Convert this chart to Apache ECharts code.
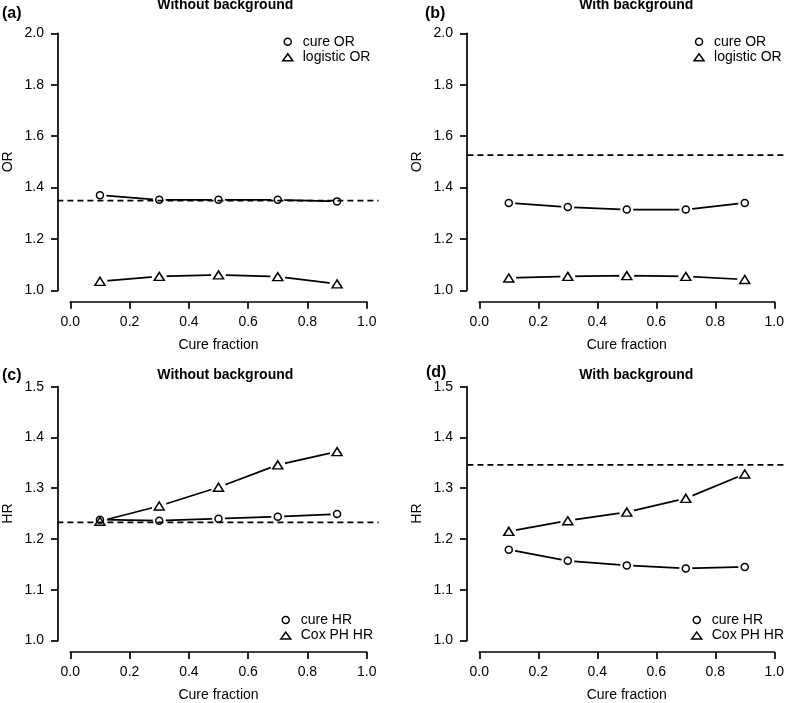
<!DOCTYPE html>
<html><head><meta charset="utf-8">
<script src="https://cdn.jsdelivr.net/npm/echarts@6/dist/echarts.min.js"></script>
<style>html,body{margin:0;padding:0;background:#fff}#c{width:787px;height:703px}</style>
</head><body><div id="c"></div>
<script>
// ---------- data ----------
const cureFraction = [0.1, 0.3, 0.5, 0.7, 0.9];
const xTicks = [0.0, 0.2, 0.4, 0.6, 0.8, 1.0];
const yTicksOR = [1.0, 1.2, 1.4, 1.6, 1.8, 2.0];
const yTicksHR = [1.0, 1.1, 1.2, 1.3, 1.4, 1.5];

const cureOR_noBg     = [1.370, 1.352, 1.352, 1.352, 1.346];
const logisticOR_noBg = [1.035, 1.054, 1.060, 1.053, 1.025];
const trueOR_noBg = 1.349;

const cureOR_bg     = [1.340, 1.324, 1.314, 1.314, 1.340];
const logisticOR_bg = [1.048, 1.054, 1.057, 1.054, 1.042];
const trueOR_bg = 1.526;

const cureHR_noBg = [1.238, 1.236, 1.240, 1.244, 1.249];
const coxHR_noBg  = [1.235, 1.265, 1.302, 1.346, 1.372];
const trueHR_noBg = 1.236;

const cureHR_bg = [1.179, 1.157, 1.148, 1.142, 1.145];
const coxHR_bg  = [1.215, 1.236, 1.253, 1.280, 1.328];
const trueHR_bg = 1.348;

// ---------- layout ----------
const FONT = '"Liberation Sans", Arial, Helvetica, sans-serif';
const EXT = 0.04; // R's 4% axis-range extension (plot region)
const panels = [
  {grid:{left:69.3, top:33.3, width:297.4, height:257}, yTicks:yTicksOR, yName:'OR', ref:trueOR_noBg,
   series:[{name:'cure OR', data:cureOR_noBg, symbol:'circle'}, {name:'logistic OR', data:logisticOR_noBg, symbol:'triangle'}],
   legend:{left:282, top:33.9}},
  {grid:{left:479.3, top:33.3, width:297.4, height:257}, yTicks:yTicksOR, yName:'OR', ref:trueOR_bg,
   series:[{name:'cure OR', data:cureOR_bg, symbol:'circle'}, {name:'logistic OR', data:logisticOR_bg, symbol:'triangle'}],
   legend:{left:693.3, top:33.9}},
  {grid:{left:69.3, top:386.7, width:297.4, height:257}, yTicks:yTicksHR, yName:'HR', ref:trueHR_noBg,
   series:[{name:'cure HR', data:cureHR_noBg, symbol:'circle'}, {name:'Cox PH HR', data:coxHR_noBg, symbol:'triangle'}],
   legend:{left:280, top:612.2}},
  {grid:{left:479.3, top:386.7, width:297.4, height:257}, yTicks:yTicksHR, yName:'HR', ref:trueHR_bg,
   series:[{name:'cure HR', data:cureHR_bg, symbol:'circle'}, {name:'Cox PH HR', data:coxHR_bg, symbol:'triangle'}],
   legend:{left:691, top:612.2}}
];
const texts = [
  {t:'Without background', x:225.3, y:5.5, bold:true, size:14},
  {t:'With background', x:636.3, y:5.5, bold:true, size:14},
  {t:'Without background', x:225.3, y:374.7, bold:true, size:14},
  {t:'With background', x:636.3, y:374.7, bold:true, size:14},
  {t:'(a)', x:2, y:13.3, bold:true, size:16, left:true},
  {t:'(b)', x:425, y:13.3, bold:true, size:16, left:true},
  {t:'(c)', x:2, y:376, bold:true, size:16, left:true},
  {t:'(d)', x:426, y:372.5, bold:true, size:16, left:true}
];

const symSize = {circle:7, triangle:[10, 8]};
const markerStyle = {color:'rgba(255,255,255,0)', borderColor:'#000', borderWidth:1.5, opacity:1};
const LW = 1.7;

const option = {
  animation:false,
  backgroundColor:'#fff',
  textStyle:{fontFamily:FONT},
  grid:[], xAxis:[], yAxis:[], series:[], legend:[], graphic:[]
};

const nP = panels.length;
panels.forEach((p, i) => {
  const yMin = p.yTicks[0], yMax = p.yTicks[p.yTicks.length-1];
  const xMin = xTicks[0], xMax = xTicks[xTicks.length-1];
  option.grid[i] = Object.assign({containLabel:false}, p.grid);
  // outer (hidden) grid = full R plot region, used for the abline
  const g = p.grid;
  option.grid[i+nP] = {containLabel:false, left:g.left-EXT*g.width, top:g.top-EXT*g.height,
    width:g.width*(1+2*EXT), height:g.height*(1+2*EXT)};

  option.xAxis[i] = {
    type:'value', gridIndex:i, min:xMin, max:xMax,
    interval:xTicks[1]-xTicks[0], offset:11.5,
    name:'Cure fraction', nameLocation:'middle', nameGap:36,
    nameTextStyle:{fontSize:14, color:'#000', fontFamily:FONT},
    axisLine:{show:true, onZero:false, lineStyle:{color:'#000', width:LW}},
    axisTick:{show:true, length:7, lineStyle:{color:'#000', width:LW}},
    axisLabel:{fontSize:14, color:'#000', margin:13, fontFamily:FONT, formatter:v=>v.toFixed(1)},
    splitLine:{show:false}
  };
  option.yAxis[i] = {
    type:'value', gridIndex:i, min:yMin, max:yMax,
    interval:+(p.yTicks[1]-p.yTicks[0]).toFixed(3), offset:12.3,
    name:p.yName, nameLocation:'middle', nameGap:43,
    nameTextStyle:{fontSize:14, color:'#000', fontFamily:FONT},
    axisLine:{show:true, onZero:false, lineStyle:{color:'#000', width:LW}},
    axisTick:{show:true, length:7, lineStyle:{color:'#000', width:LW}},
    axisLabel:{fontSize:14, color:'#000', margin:14, fontFamily:FONT, formatter:v=>v.toFixed(1)},
    splitLine:{show:false}
  };
  const xr = xMax - xMin, yr = yMax - yMin;
  option.xAxis[i+nP] = {type:'value', gridIndex:i+nP, show:false, min:xMin-EXT*xr, max:xMax+EXT*xr};
  option.yAxis[i+nP] = {type:'value', gridIndex:i+nP, show:false, min:yMin-EXT*yr, max:yMax+EXT*yr};

  p.series.forEach(s => {
    const pts = cureFraction.map((x, k) => [x, s.data[k]]);
    option.series.push({type:'line', name:'_line_'+s.name+i, xAxisIndex:i, yAxisIndex:i, data:pts,
      showSymbol:false, symbol:'none', z:2, silent:true,
      lineStyle:{color:'#000', width:LW}});
    option.series.push({type:'scatter', name:'_halo_'+s.name+i, xAxisIndex:i, yAxisIndex:i, data:pts,
      symbol:'circle', symbolSize:s.symbol==='circle'?13:15, z:3, silent:true,
      itemStyle:{color:'#fff', borderWidth:0, opacity:1}});
  });
  option.series.push({type:'line', name:'_ref'+i, xAxisIndex:i+nP, yAxisIndex:i+nP,
    data:[[xMin-EXT*xr, p.ref], [xMax+EXT*xr, p.ref]], showSymbol:false, symbol:'none', z:4, silent:true,
    lineStyle:{color:'#000', width:LW, type:[6,4]}});
  p.series.forEach(s => {
    const pts = cureFraction.map((x, k) => [x, s.data[k]]);
    option.series.push({type:'scatter', name:s.name, xAxisIndex:i, yAxisIndex:i, data:pts,
      symbol:s.symbol, symbolSize:symSize[s.symbol], z:5, itemStyle:markerStyle,
      emphasis:{disabled:true}});
  });
  option.legend.push({
    orient:'vertical', left:p.legend.left, top:p.legend.top, padding:0, itemGap:0,
    itemWidth:10, itemHeight:7, selectedMode:false,
    textStyle:{fontSize:14, color:'#000', fontFamily:FONT, lineHeight:15.6, padding:[0,0,0,5]},
    data:p.series.map(s => ({name:s.name, icon:s.symbol, itemStyle:markerStyle}))
  });
});

texts.forEach(t => {
  option.graphic.push({type:'text', x:t.x, y:t.y, silent:true,
    style:{text:t.t, fill:'#000', font:(t.bold?'bold ':'')+t.size+'px '+FONT,
      textAlign:t.left?'left':'center', textVerticalAlign:'middle',
      align:t.left?'left':'center', verticalAlign:'middle'}});
});

const chart = echarts.init(document.getElementById('c'), null, {renderer:'canvas'});
chart.setOption(option);
</script></body></html>
